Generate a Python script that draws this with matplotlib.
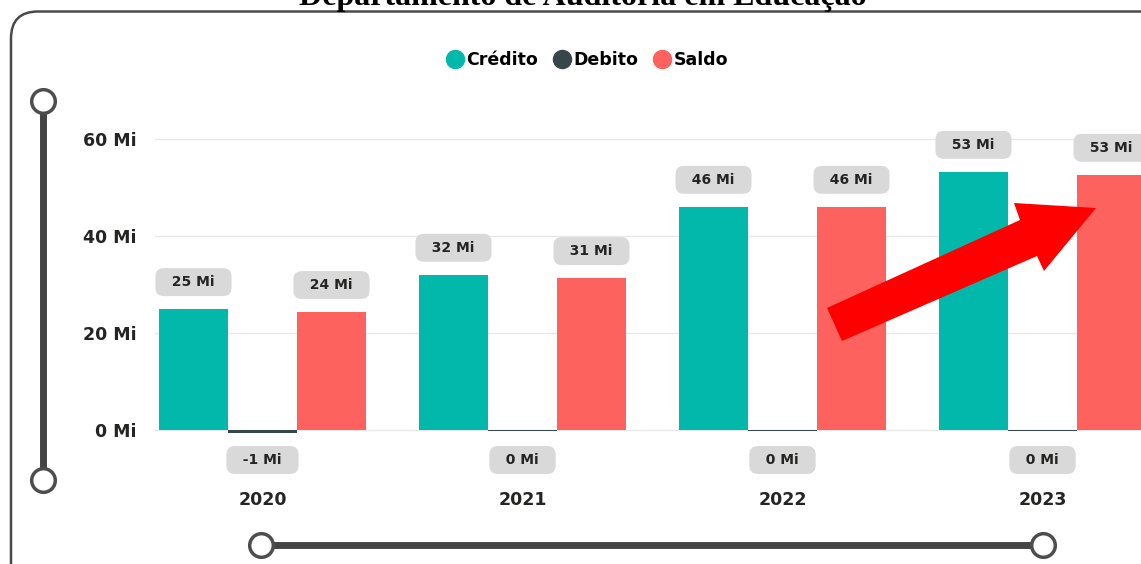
import matplotlib.pyplot as plt
import numpy as np
from matplotlib.lines import Line2D
from matplotlib.patches import FancyBboxPatch, Polygon

# data (milhões)
anos = ['2020', '2021', '2022', '2023']
credito = [24.9, 32.0, 46.0, 53.2]
debito = [-0.6, -0.2, -0.2, -0.2]
saldo = [24.3, 31.3, 46.0, 52.6]
y_ticks = [0, 20, 40, 60]

cores = {'Crédito': '#01B8AA', 'Debito': '#374649', 'Saldo': '#FD625E'}

W, H = 1141, 564


def fx(x):
    return x / W


def fy(y):
    return 1 - y / H


fig = plt.figure(figsize=(W / 100, H / 100), dpi=100)
fig.patch.set_facecolor('white')

# axes placed in pixel space (left 155, top 120, bottom 440, right = figure edge)
ax = fig.add_axes([fx(155), fy(440), fx(W - 155), (440 - 120) / H])
px_per_group = 260
ax.set_xlim((155 - 262.5) / px_per_group, (W - 262.5) / px_per_group)
px_per_mi = 4.85
ax.set_ylim(-10 / px_per_mi, 310 / px_per_mi)

x = np.arange(len(anos))
bw = 69 / px_per_group
series = [('Crédito', credito, -bw), ('Debito', debito, 0), ('Saldo', saldo, bw)]

for val in y_ticks:
    ax.axhline(val, color='#e8e8e8', lw=1, zorder=0)

box = dict(boxstyle='round,pad=0.5,rounding_size=0.6', fc='#d9d9d9', ec='none')
for nome, vals, off in series:
    ax.bar(x + off, vals, width=bw, color=cores[nome], zorder=2, label=nome)
    for xi, v in zip(x + off, vals):
        txt = f"  {int(round(v))} Mi  "
        if v >= 0 and nome != 'Debito':
            ax.annotate(txt, (xi, v), xytext=(0, 19.5), textcoords='offset points',
                        ha='center', va='center', fontsize=10, fontweight='bold',
                        color='#252423', bbox=box, annotation_clip=False)
        else:
            ax.annotate(txt, (xi, 0), xytext=(0, -21.6), textcoords='offset points',
                        ha='center', va='center', fontsize=10, fontweight='bold',
                        color='#252423', bbox=box, annotation_clip=False)

ax.set_yticks(y_ticks)
ax.set_yticklabels([f"{v} Mi" for v in y_ticks], fontsize=12.5, fontweight='bold',
                   color='#252423')
ax.set_xticks(x)
ax.set_xticklabels(anos, fontsize=12.5, fontweight='bold', color='#252423')
ax.tick_params(axis='y', length=0, pad=13)
ax.tick_params(axis='x', length=0, pad=37)
for s in ax.spines.values():
    s.set_visible(False)
ax.patch.set_alpha(0)

# legend
handles = [Line2D([], [], marker='o', ls='none', markersize=13,
                  markerfacecolor=c, markeredgecolor=c, label=n)
           for n, c in cores.items()]
fig.legend(handles=handles, loc='center', bbox_to_anchor=(fx(587), fy(60)),
           ncol=3, frameon=False, handletextpad=0.15,
           columnspacing=0.9, handlelength=1.0, borderaxespad=0,
           prop={'weight': 'bold', 'size': 12.5})

# title (cut off at the top)
fig.text(fx(583), fy(5), 'Departamento de Auditoria em Educação', ha='center',
         va='baseline', family='Liberation Serif', fontweight='bold', fontsize=23)

# rounded border of the visual
border = FancyBboxPatch((0.11, -0.5), 12.0, 5.525 + 0.5,
                        boxstyle='round,pad=0,rounding_size=0.27',
                        transform=fig.dpi_scale_trans, fc='none', ec='#4a4a4a',
                        lw=1.8, zorder=0)
fig.add_artist(border)

# zoom sliders
for (x0, y0), (x1, y1) in [((43, 101), (43, 480)), ((261, 545), (1043, 545))]:
    fig.add_artist(Line2D([fx(x0), fx(x1)], [fy(y0), fy(y1)], transform=fig.transFigure,
                          color='#444444', lw=5, solid_capstyle='butt', zorder=3))
    fig.add_artist(Line2D([fx(x0), fx(x1)], [fy(y0), fy(y1)], transform=fig.transFigure,
                          ls='none', marker='o', markersize=17, markerfacecolor='white',
                          markeredgecolor='#4d4d4d', markeredgewidth=2.5, zorder=4))

# red arrow
seta = [(827, 308), (1020, 220), (1014, 203), (1096, 208), (1044, 271), (1037, 256),
        (842, 341)]
fig.add_artist(Polygon([(fx(a), fy(b)) for a, b in seta], closed=True,
                       transform=fig.transFigure, fc='#ff0000', ec='none', zorder=5))

fig.savefig('out.png', dpi=100)
